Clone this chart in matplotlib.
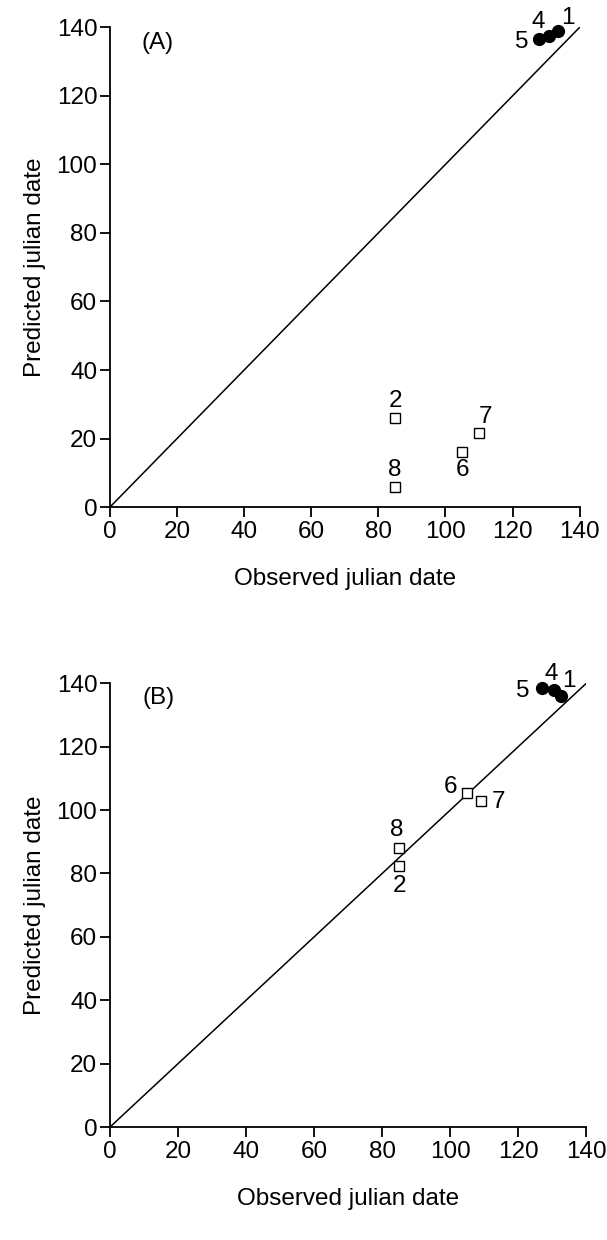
import matplotlib.pyplot as plt

plt.rcParams['font.family'] = ['Liberation Sans', 'DejaVu Sans']

# Panel A: observed vs predicted julian date
ids_a = ['1', '4', '5', '2', '8', '6', '7']
obs_a = [133.5, 131, 128, 85, 85, 105, 110]
pred_a = [139, 137.5, 136.5, 26, 6, 16, 21.5]
filled_a = [True, True, True, False, False, False, False]

# Panel B
ids_b = ['1', '4', '5', '8', '2', '6', '7']
obs_b = [132.5, 130.5, 127, 85, 85, 105, 109]
pred_b = [136, 138, 138.5, 88, 82.5, 105.5, 103]
filled_b = [True, True, True, False, False, False, False]

ticks = [0, 20, 40, 60, 80, 100, 120, 140]

# label offsets (points) for each point id
offs_a = {'1': (7, 9), '4': (-8, 10), '5': (-13, -2), '2': (0, 12), '8': (0, 12), '6': (0, -13), '7': (5, 12)}
offs_b = {'1': (6, 11), '4': (-2, 11), '5': (-14, -2), '8': (-2, 13), '2': (0, -15), '6': (-12, 4), '7': (13, -1)}

fs = 17.5

fig = plt.figure(figsize=(6.07, 12.4), dpi=100)
ax_a = fig.add_axes([0.181, 0.591, 0.774, 0.387])
ax_b = fig.add_axes([0.181, 0.091, 0.785, 0.358])


def draw(ax, ids, obs, pred, filled, offs, tag):
    ax.plot([0, 140], [0, 140], color='black', lw=1.1)
    for i, x, y, f in zip(ids, obs, pred, filled):
        if f:
            ax.plot(x, y, 'o', ms=8.5, color='black', clip_on=False, zorder=3)
        else:
            ax.plot(x, y, 's', ms=6.5, mfc='white', mec='black', mew=1.0, clip_on=False, zorder=3)
        ax.annotate(i, (x, y), xytext=offs[i], textcoords='offset points',
                    ha='center', va='center', fontsize=fs)
    ax.set_xlim(0, 140)
    ax.set_ylim(0, 140)
    ax.set_xticks(ticks)
    ax.set_yticks(ticks)
    for s in ['top', 'right']:
        ax.spines[s].set_visible(False)
    for s in ['left', 'bottom']:
        ax.spines[s].set_linewidth(1.3)
    ax.tick_params(direction='out', length=7, width=1.3, labelsize=fs, pad=2)
    ax.tick_params(axis='x', pad=3)
    ax.set_xlabel('Observed julian date', fontsize=fs, labelpad=18)
    ax.set_ylabel('Predicted julian date', fontsize=fs, labelpad=8)
    ax.text(9.5, 135.5, tag, fontsize=fs, va='center', ha='left')


draw(ax_a, ids_a, obs_a, pred_a, filled_a, offs_a, '(A)')
draw(ax_b, ids_b, obs_b, pred_b, filled_b, offs_b, '(B)')

fig.savefig('out.png', dpi=100)
